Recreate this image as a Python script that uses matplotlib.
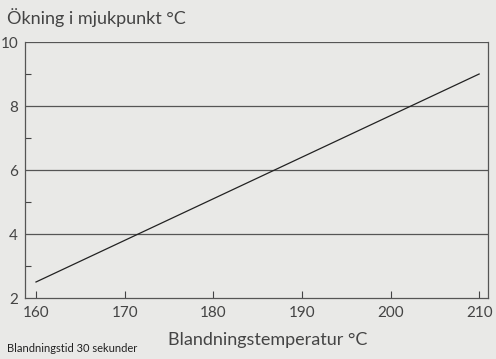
import matplotlib.pyplot as plt

# mixing temperature vs softening point increase
temp = [160, 210]
increase = [2.5, 9.0]

x_ticks = [160, 170, 180, 190, 200, 210]
y_ticks = [2, 4, 6, 8, 10]
y_minor = [3, 5, 7, 9]

bg = '#e9e9e7'
txt = '#444444'
plt.rcParams['font.family'] = ['Lato', 'DejaVu Sans']

fig = plt.figure(figsize=(4.96, 3.59), dpi=100, facecolor=bg)
ax = fig.add_axes([25/496, 1-298/359, 463/496, 256/359])
ax.set_facecolor(bg)

for y in y_ticks[1:]:
    ax.axhline(y, color='#555555', lw=0.9, zorder=1)

ax.plot(temp, increase, color='#222222', lw=0.9, zorder=2)

ax.set_xlim(158.76, 211.0)
ax.set_ylim(2, 10)
ax.set_xticks(x_ticks)
ax.set_yticks(y_ticks)
ax.set_yticks(y_minor, minor=True)
ax.tick_params(axis='x', direction='in', length=5, width=0.8, color='#444444',
               labelsize=11, labelcolor=txt, pad=6)
ax.tick_params(axis='y', which='major', length=0, labelsize=11, labelcolor=txt, pad=5)
ax.tick_params(axis='y', which='minor', direction='in', length=4, width=0.8, color='#444444')

for s in ['left', 'bottom', 'right']:
    ax.spines[s].set_color('#555555')
    ax.spines[s].set_linewidth(0.9)
ax.spines['top'].set_visible(False)

fig.text(7/496, 1-18/359, 'Ökning i mjukpunkt °C', fontsize=13, color=txt,
         va='center', ha='left')
fig.text(268/496, 1-340/359, 'Blandningstemperatur °C', fontsize=13, color=txt,
         va='center', ha='center')
fig.text(7/496, 1-348/359, 'Blandningstid 30 sekunder', fontsize=8, color='#222222',
         va='center', ha='left')

fig.savefig('out.png', dpi=100, facecolor=bg)
